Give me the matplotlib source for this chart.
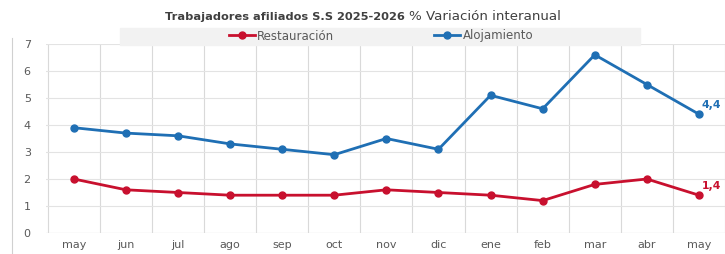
import matplotlib
matplotlib.use("Agg")
import matplotlib.pyplot as plt
from matplotlib.patches import Rectangle
from matplotlib.lines import Line2D

plt.rcParams['font.family'] = ['DejaVu Sans']

months = ["may", "jun", "jul", "ago", "sep", "oct", "nov", "dic",
          "ene", "feb", "mar", "abr", "may"]
restauracion = [2.0, 1.6, 1.5, 1.4, 1.4, 1.4, 1.6, 1.5, 1.4, 1.2, 1.8, 2.0, 1.4]
alojamiento = [3.9, 3.7, 3.6, 3.3, 3.1, 2.9, 3.5, 3.1, 5.1, 4.6, 6.6, 5.5, 4.4]

red = '#C8102E'
blue = '#1F6FB4'
grey_txt = '#595959'

fig = plt.figure(figsize=(7.25, 2.54), dpi=100)
ax = fig.add_axes([46 / 725, 21 / 254, 679 / 725, 189 / 254])

x = list(range(len(months)))
ax.plot(x, restauracion, color=red, lw=2, marker='o', ms=5, label='Restauración', zorder=3)
ax.plot(x, alojamiento, color=blue, lw=2, marker='o', ms=5, label='Alojamiento', zorder=3)

ax.text(x[-1] + 0.05, alojamiento[-1] + 0.35, "4,4", color=blue, fontsize=7.8,
        fontweight='bold', ha='left', va='center')
ax.text(x[-1] + 0.05, restauracion[-1] + 0.35, "1,4", color=red, fontsize=7.8,
        fontweight='bold', ha='left', va='center')

ax.set_xlim(-0.534, 12.5)
ax.set_ylim(0, 7)
ax.set_yticks(range(0, 8))
ax.set_xticks(x)
ax.set_xticklabels(months)
# vertical grid between categories
for b in [i + 0.5 for i in range(-1, 13)]:
    ax.axvline(b, color='#D9D9D9', lw=0.8, zorder=0)
ax.grid(axis='y', color='#E3E3E3', lw=0.8, zorder=0)
for s in ax.spines.values():
    s.set_visible(False)
ax.axhline(0, color='#D9D9D9', lw=0.8, zorder=0)
ax.tick_params(axis='both', length=0, colors=grey_txt, labelsize=8)
ax.tick_params(axis='y', pad=11)
ax.tick_params(axis='x', pad=5)

# legend band
fig.patches.append(Rectangle((120 / 725, 1 - 45 / 254), 520 / 725, 17 / 254,
                             transform=fig.transFigure, color='#F2F2F2', zorder=0))
fig.add_artist(Line2D([12 / 725, 12 / 725], [0, 1 - 38 / 254], color='#D0D0D0', lw=0.8))

fig.text(405 / 725, 1 - 17 / 254, "Trabajadores afiliados S.S 2025-2026", ha='right',
         va='center', fontsize=8.2, fontweight='bold', color='#404040')
fig.text(409 / 725, 1 - 17 / 254, "% Variación interanual", ha='left',
         va='center', fontsize=9.6, color='#404040')

fig.legend(loc='center', bbox_to_anchor=(381 / 725, 1 - 36 / 254), ncol=2,
           frameon=False, fontsize=8.5, handlelength=2.2, handletextpad=0.2,
           columnspacing=8.5, labelcolor=grey_txt, borderpad=0)

fig.savefig('out.png', dpi=100)
